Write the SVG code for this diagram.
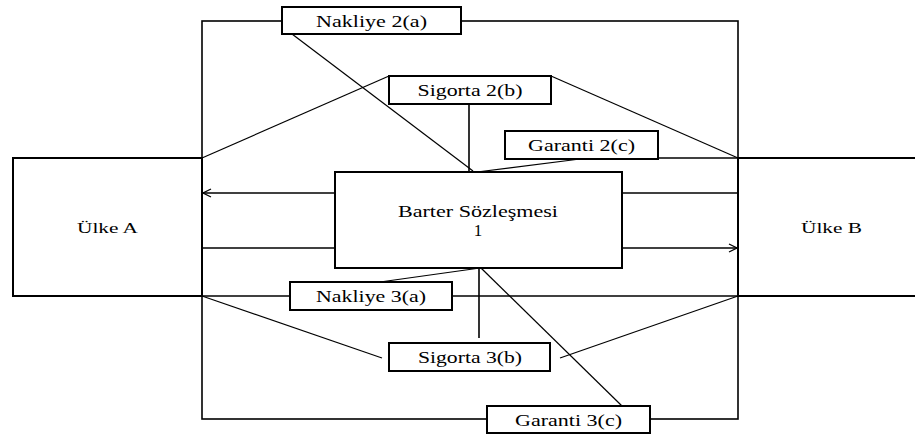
<svg xmlns="http://www.w3.org/2000/svg" width="915" height="434" viewBox="0 0 915 434">
<style>
.box{fill:#fff;stroke:#000;stroke-width:2}
.ln{fill:none;stroke:#000;stroke-width:1.6}
.dg{fill:none;stroke:#000;stroke-width:1.2}
.t{font-family:'Liberation Serif','DejaVu Serif',serif;font-size:17px;fill:#000;text-anchor:middle}
.c{font-family:'Liberation Serif','DejaVu Serif',serif;font-size:15px;fill:#000;text-anchor:middle}
</style>
<defs>
<marker id="arr" markerWidth="10" markerHeight="10" refX="9" refY="5" orient="auto" markerUnits="userSpaceOnUse">
<path d="M1,1 L9,5 L1,9" fill="none" stroke="#000" stroke-width="1.3"/>
</marker>
</defs>
<rect width="915" height="434" fill="#fff"/>
<g id="connectors">
<rect x="202" y="21" width="536" height="398" class="ln"/>
<line x1="658" y1="158" x2="738" y2="158" class="ln"/>
<line x1="202" y1="296" x2="290" y2="296" class="ln"/>
<line x1="452" y1="296" x2="738" y2="296" class="ln"/>
<line x1="292" y1="34" x2="473" y2="171" class="dg"/>
<line x1="389" y1="76" x2="202" y2="158" class="dg"/>
<line x1="551" y1="76" x2="738" y2="158" class="dg"/>
<line x1="469" y1="104" x2="469" y2="172" class="ln"/>
<line x1="580" y1="159" x2="477" y2="172" class="dg"/>
<line x1="380" y1="282" x2="480" y2="268" class="dg"/>
<line x1="479" y1="268" x2="479" y2="338" class="ln"/>
<line x1="481" y1="268" x2="622" y2="406" class="dg"/>
<line x1="202" y1="296" x2="382" y2="358" class="dg"/>
<line x1="738" y1="296" x2="560" y2="358" class="dg"/>
<line x1="335" y1="193" x2="203" y2="193" class="ln" marker-end="url(#arr)"/>
<line x1="622" y1="193" x2="738" y2="193" class="ln"/>
<line x1="202" y1="248" x2="335" y2="248" class="ln"/>
<line x1="622" y1="248" x2="737" y2="248" class="ln" marker-end="url(#arr)"/>
</g>
<g id="ulkeA">
<rect x="13" y="158" width="189" height="138" class="box"/>
<text x="107.5" y="233" class="c" textLength="61" lengthAdjust="spacingAndGlyphs">Ülke A</text>
</g>
<g id="ulkeB">
<rect x="738" y="158" width="190" height="138" class="box"/>
<text x="831.5" y="233" class="c" textLength="61" lengthAdjust="spacingAndGlyphs">Ülke B</text>
</g>
<g id="barter">
<rect x="335" y="172" width="287" height="96" class="box"/>
<text x="478" y="217" class="t" textLength="160" lengthAdjust="spacingAndGlyphs">Barter Sözleşmesi</text>
<text x="478" y="236" class="t">1</text>
</g>
<g id="nakliye2a">
<rect x="282" y="7" width="179" height="27" class="box"/>
<text x="371.5" y="27" class="t" textLength="111" lengthAdjust="spacingAndGlyphs">Nakliye 2(a)</text>
</g>
<g id="sigorta2b">
<rect x="389" y="76" width="162" height="28" class="box"/>
<text x="470" y="96" class="t" textLength="105" lengthAdjust="spacingAndGlyphs">Sigorta 2(b)</text>
</g>
<g id="garanti2c">
<rect x="505" y="131" width="153" height="28" class="box"/>
<text x="581.5" y="151" class="t" textLength="107" lengthAdjust="spacingAndGlyphs">Garanti 2(c)</text>
</g>
<g id="nakliye3a">
<rect x="290" y="282" width="162" height="28" class="box"/>
<text x="371" y="302" class="t" textLength="110" lengthAdjust="spacingAndGlyphs">Nakliye 3(a)</text>
</g>
<g id="sigorta3b">
<rect x="389" y="343" width="161" height="28" class="box"/>
<text x="470" y="363" class="t" textLength="104" lengthAdjust="spacingAndGlyphs">Sigorta 3(b)</text>
</g>
<g id="garanti3c">
<rect x="487" y="406" width="163" height="27" class="box"/>
<text x="568.5" y="426" class="t" textLength="107" lengthAdjust="spacingAndGlyphs">Garanti 3(c)</text>
</g>
</svg>
